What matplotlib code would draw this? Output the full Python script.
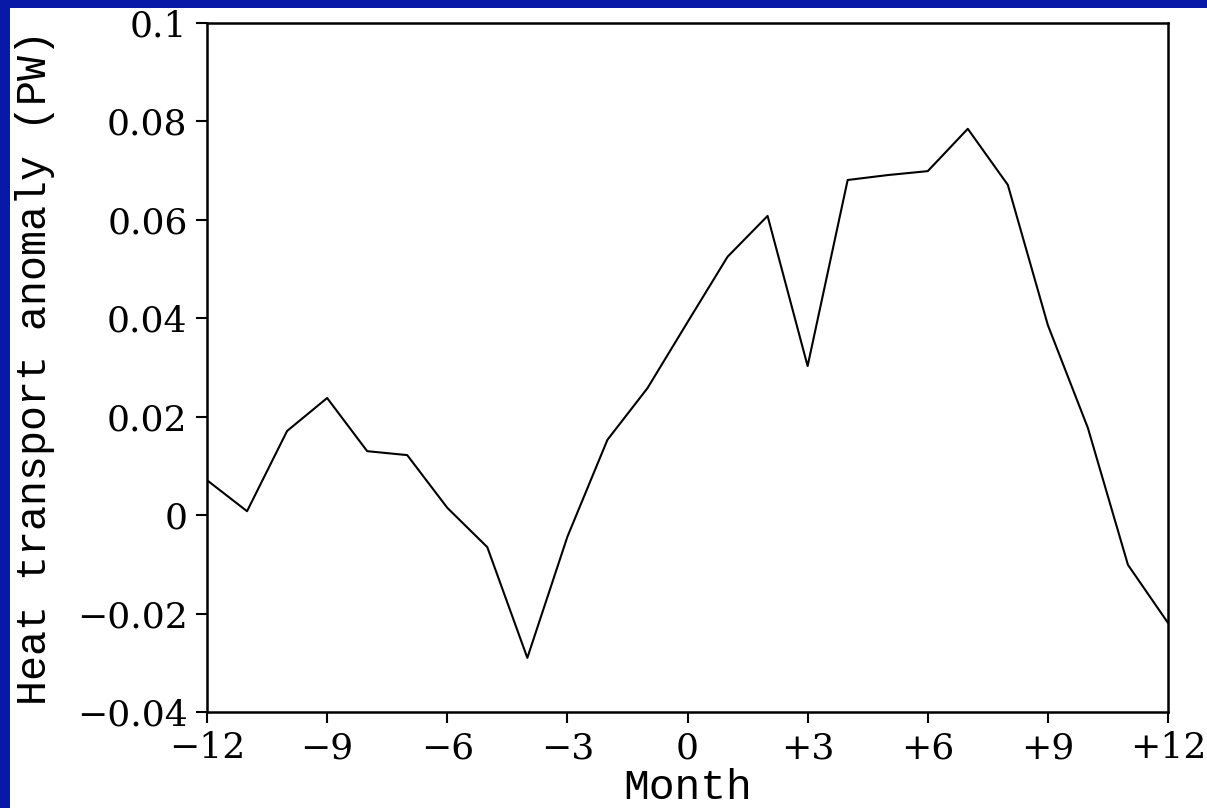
import matplotlib
matplotlib.use("Agg")
import matplotlib.pyplot as plt
from matplotlib.patches import Rectangle

# DATA
months = list(range(-12, 13))
heat_anom = [0.0071, 0.0008, 0.0171, 0.0238, 0.0130, 0.0122, 0.0015, -0.0065,
             -0.0290, -0.0044, 0.0153, 0.0258, 0.0392, 0.0525, 0.0608, 0.0303,
             0.0681, 0.0691, 0.0699, 0.0785, 0.0671, 0.0386, 0.0177, -0.0101,
             -0.0219]
xticks = [-12, -9, -6, -3, 0, 3, 6, 9, 12]
xtick_labels = ["\u221212", "\u22129", "\u22126", "\u22123", "0",
                "+3", "+6", "+9", "+12"]
yticks = [-0.04, -0.02, 0, 0.02, 0.04, 0.06, 0.08, 0.1]
ytick_labels = ["\u22120.04", "\u22120.02", "0", "0.02", "0.04", "0.06",
                "0.08", "0.1"]

plt.rcParams['font.family'] = ['DejaVu Serif', 'DejaVu Sans']

fig = plt.figure(figsize=(12.07, 8.08), dpi=100)
fig.patch.set_facecolor('#0819A8')
# white slide area
fig.patches.append(Rectangle((10 / 1207, 0), 1.0, 1 - 8 / 808,
                             transform=fig.transFigure, facecolor='white',
                             edgecolor='none', zorder=-10))

ax = fig.add_axes([207 / 1207, 96 / 808, 961 / 1207, 689 / 808])
ax.set_facecolor('white')
ax.plot(months, heat_anom, color='black', lw=1.5)

ax.set_xlim(-12, 12)
ax.set_ylim(-0.04, 0.1)
ax.set_xticks(xticks)
ax.set_xticklabels(xtick_labels)
ax.set_yticks(yticks)
ax.set_yticklabels(ytick_labels)
ax.tick_params(direction='out', length=8, width=1.5, labelsize=26, pad=6,
               top=False, right=False)
for s in ax.spines.values():
    s.set_linewidth(1.8)

label_font = ['Liberation Mono', 'DejaVu Sans Mono']
ax.set_xlabel("Month", fontsize=31, family=label_font, labelpad=2)
ax.set_ylabel("Heat transport anomaly (PW)", fontsize=30, family=label_font,
              labelpad=16)

fig.savefig("out.png", dpi=100, facecolor=fig.get_facecolor())
